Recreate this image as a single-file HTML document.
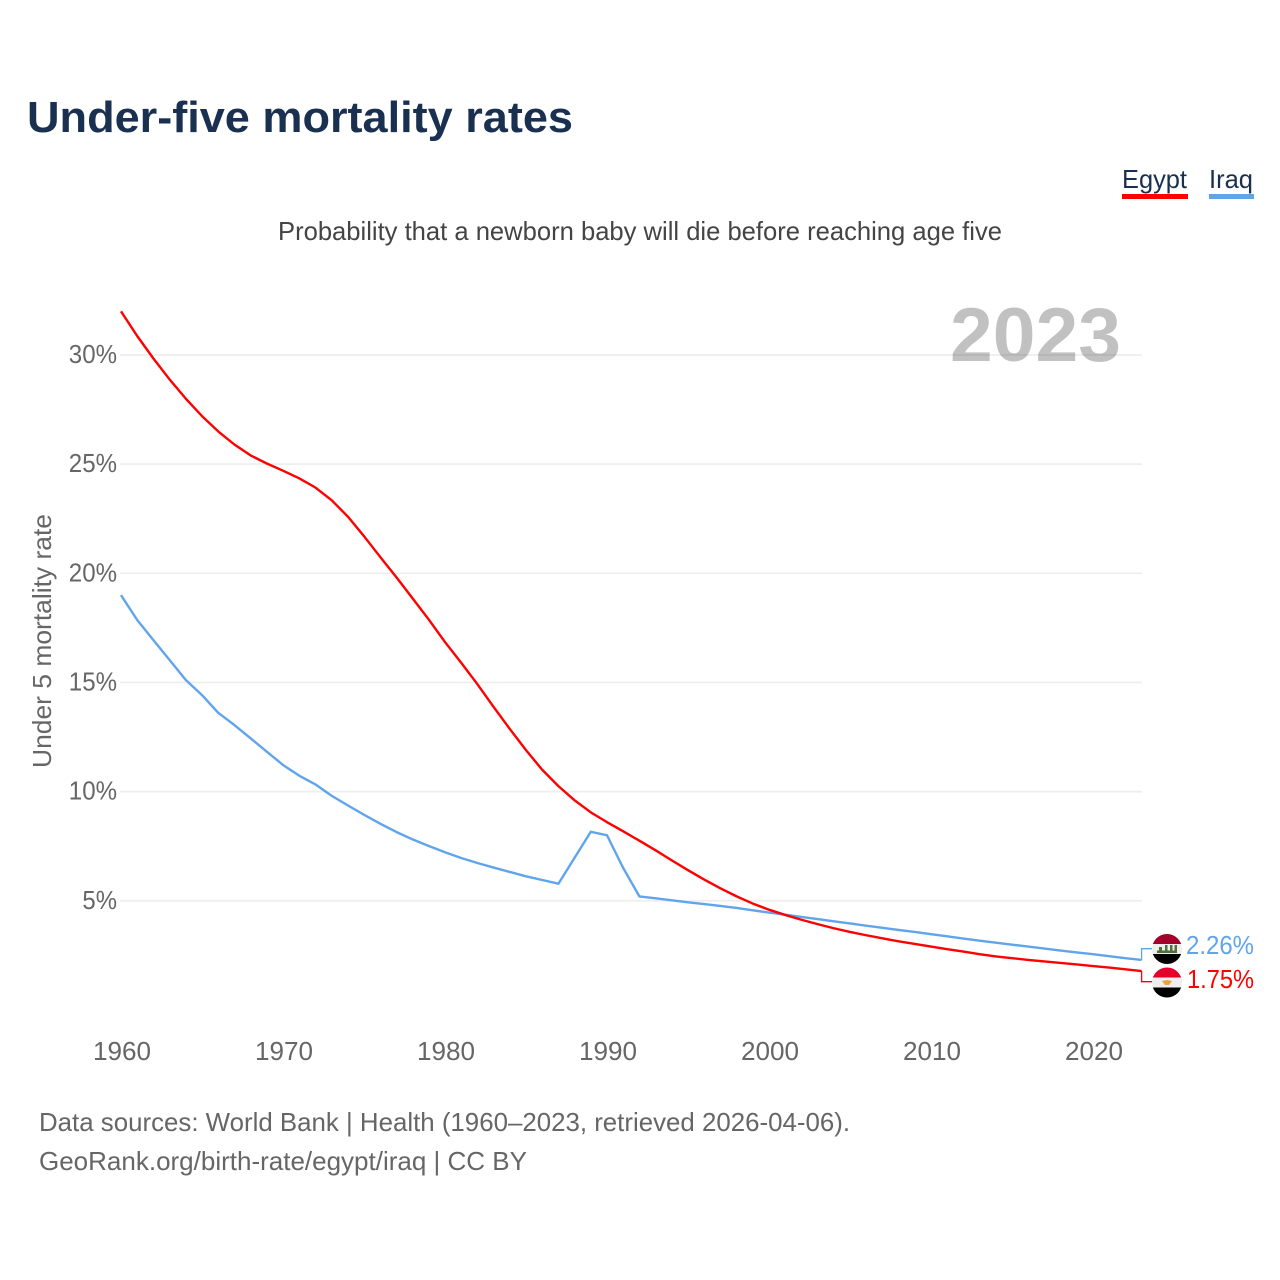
<!DOCTYPE html>
<html lang="en">
<head>
<meta charset="utf-8">
<title>Under-five mortality rates</title>
<style>
html,body{margin:0;padding:0;background:#fff;width:1280px;height:1280px;overflow:hidden}
svg{display:block}
text{font-family:"Liberation Sans",sans-serif}
</style>
</head>
<body>
<svg id="chart" width="1280" height="1280" viewBox="0 0 1280 1280" xmlns="http://www.w3.org/2000/svg">
  <rect width="1280" height="1280" fill="#fff"/>
  <text x="27" y="132" font-size="44" font-weight="700" fill="#1a3050" textLength="546" lengthAdjust="spacingAndGlyphs">Under-five mortality rates</text>
  <g>
    <text x="1122" y="188" font-size="26" fill="#1a3050" textLength="65" lengthAdjust="spacingAndGlyphs">Egypt</text>
    <rect x="1122" y="194" width="66" height="5" fill="#ff0000"/>
  </g>
  <g>
    <text x="1209" y="188" font-size="26" fill="#1a3050" textLength="44" lengthAdjust="spacingAndGlyphs">Iraq</text>
    <rect x="1209" y="194" width="45" height="5" fill="#60a5ec"/>
  </g>
  <text x="278" y="240" font-size="26" fill="#444" textLength="724" lengthAdjust="spacingAndGlyphs">Probability that a newborn baby will die before reaching age five</text>
  <g id="grid"></g>
  <text x="950" y="361" font-size="76" font-weight="700" fill="#000" fill-opacity="0.245" textLength="171" lengthAdjust="spacingAndGlyphs">2023</text>
  <g id="yticks"></g>
  <g id="xticks"></g>
  <text transform="translate(51,768) rotate(-90)" font-size="26" fill="#666" textLength="254" lengthAdjust="spacingAndGlyphs">Under 5 mortality rate</text>
  <g id="series"></g>

  <defs>
    <clipPath id="clip-iraq"><circle cx="1167" cy="949" r="15"/></clipPath>
    <clipPath id="clip-egypt"><circle cx="1167" cy="982.5" r="15"/></clipPath>
  </defs>
  <g clip-path="url(#clip-iraq)">
    <rect x="1150" y="933" width="34" height="11" fill="#a3002c"/>
    <rect x="1150" y="944" width="34" height="10" fill="#eeeeee"/>
    <rect x="1150" y="954" width="34" height="11" fill="#000"/>
    <rect x="1157" y="950.5" width="20" height="2.5" fill="#4f7038"/>
    <rect x="1159" y="947" width="3" height="5" fill="#4f7038"/>
    <rect x="1165" y="945" width="2.5" height="7" fill="#4f7038"/>
    <rect x="1170" y="945" width="2.5" height="7" fill="#4f7038"/>
    <rect x="1174.5" y="945" width="2.5" height="7" fill="#4f7038"/>
  </g>
  <g clip-path="url(#clip-egypt)">
    <rect x="1150" y="967" width="34" height="10.5" fill="#e4002b"/>
    <rect x="1150" y="977.5" width="34" height="10" fill="#eeeeee"/>
    <rect x="1150" y="987.5" width="34" height="11" fill="#000"/>
    <path d="M1162 981 L1167 980 L1172 981 L1169 985 L1165 985 Z" fill="#e8a33d"/>
  </g>
  <text x="1186" y="954" font-size="26" fill="#60a5ec" textLength="68" lengthAdjust="spacingAndGlyphs">2.26%</text>
  <text x="1187" y="988" font-size="26" fill="#ff0000" textLength="67" lengthAdjust="spacingAndGlyphs">1.75%</text>

  <text x="39" y="1131" font-size="26" fill="#666" textLength="811" lengthAdjust="spacingAndGlyphs">Data sources: World Bank | Health (1960–2023, retrieved 2026-04-06).</text>
  <text x="39" y="1170" font-size="26" fill="#666" textLength="488" lengthAdjust="spacingAndGlyphs">GeoRank.org/birth-rate/egypt/iraq | CC BY</text>
</svg>
<script>
const startYear = 1960;
const egyptValues = [32.0,30.87,29.84,28.88,28.0,27.2,26.5,25.9,25.4,25.03,24.7,24.35,23.93,23.35,22.6,21.7,20.75,19.82,18.85,17.88,16.85,15.9,14.92,13.88,12.87,11.9,11.0,10.25,9.6,9.05,8.6,8.18,7.75,7.31,6.85,6.4,5.97,5.57,5.2,4.87,4.59,4.35,4.13,3.93,3.74,3.57,3.42,3.28,3.14,3.02,2.9,2.78,2.67,2.55,2.45,2.37,2.29,2.22,2.15,2.08,2.01,1.94,1.86,1.78];
const iraqValues = [19.0,17.86,16.94,16.03,15.11,14.42,13.61,13.05,12.44,11.83,11.22,10.73,10.33,9.81,9.37,8.94,8.53,8.15,7.81,7.51,7.22,6.96,6.73,6.52,6.32,6.12,5.95,5.78,6.97,8.16,8.0,6.5,5.2,5.11,5.02,4.93,4.85,4.76,4.67,4.56,4.46,4.36,4.26,4.16,4.06,3.96,3.86,3.76,3.66,3.57,3.47,3.37,3.27,3.17,3.08,2.99,2.9,2.81,2.72,2.63,2.55,2.46,2.37,2.29];
const yTickValues = [5,10,15,20,25,30];
const xTickYears = [1960,1970,1980,1990,2000,2010,2020];

const NS = 'http://www.w3.org/2000/svg';
function xScale(year){ return 121 + (year - 1960) * 16.2; }
function yScale(value){ return 1009.9 - value * 21.83; }
function make(tag, attrs){
  const el = document.createElementNS(NS, tag);
  for (const k in attrs) el.setAttribute(k, attrs[k]);
  return el;
}
const grid = document.getElementById('grid');
const yticks = document.getElementById('yticks');
yTickValues.forEach(function(v){
  const line = make('line', {x1:120, x2:1142, y1:yScale(v), y2:yScale(v), stroke:'#eeeeee', 'stroke-width':1.7});
  
  
  grid.appendChild(line);
  const label = v + '%';
  const t = make('text', {x:117, y:yScale(v)+8, 'font-size':25.5, fill:'#666', 'text-anchor':'end', textLength:(label.length-1)*13.6+21, lengthAdjust:'spacingAndGlyphs'});
  
  
  t.textContent = label;
  yticks.appendChild(t);
});
const xticks = document.getElementById('xticks');
xTickYears.forEach(function(year){
  const t = make('text', {x:xScale(year)+1, y:1060, 'font-size':25.5, fill:'#666', 'text-anchor':'middle', textLength:58, lengthAdjust:'spacingAndGlyphs'});
  
  
  t.textContent = year;
  xticks.appendChild(t);
});
function drawSeries(values, color, name, labelY){
  const series = document.getElementById('series');
  const pts = values.map(function(v, i){ return xScale(startYear + i).toFixed(2) + ',' + yScale(v).toFixed(2); });
  const line = make('polyline', {points:pts.join(' '), fill:'none', stroke:color, 'stroke-width':2.4, 'stroke-linejoin':'round'});
  
  
  series.appendChild(line);
  const ex = xScale(startYear + values.length - 1), ey = yScale(values[values.length - 1]);
  const conn = make('polyline', {points:ex + ',' + ey + ' ' + ex + ',' + labelY + ' 1152,' + labelY, fill:'none', stroke:color, 'stroke-width':1.3});
  
  
  series.appendChild(conn);
}
drawSeries(iraqValues, '#60a5ec', 'iraq-line', 948.7);
drawSeries(egyptValues, '#ff0000', 'egypt-line', 981.7);
</script>
</body>
</html>
